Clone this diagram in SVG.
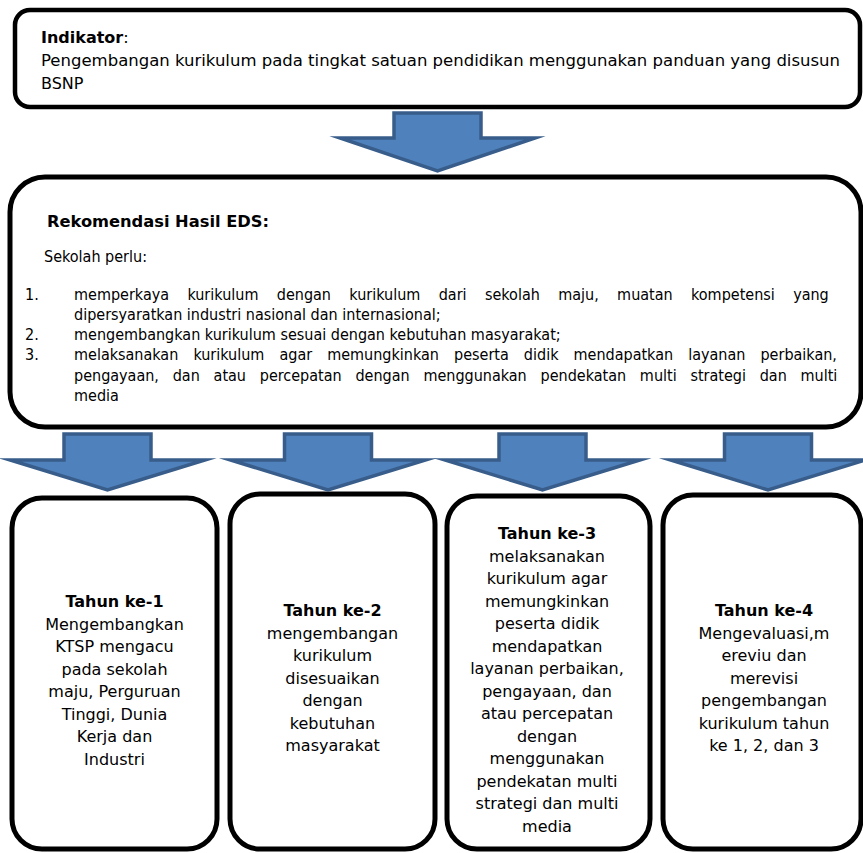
<svg xmlns="http://www.w3.org/2000/svg" width="863" height="853" viewBox="0 0 863 853">
<style>
.box{fill:#fff;stroke:#000;stroke-width:5}
.arrow{fill:#4F81BD;stroke:#385D8A;stroke-width:3.5;stroke-linejoin:miter;stroke-miterlimit:10}
text{font-family:"DejaVu Sans","Verdana",sans-serif;font-size:16px;fill:#000}
.b{font-weight:bold}
.c{text-anchor:middle}
.n{font-family:"DejaVu Sans Condensed","DejaVu Sans",sans-serif;font-stretch:condensed}
</style>
<rect width="863" height="853" fill="#fff"/>
<g id="indikator">
<rect class="box" x="15" y="10" width="845" height="97" rx="15" ry="15" style="stroke-width:4.5"/>
<text x="41" y="43"><tspan class="b">Indikator</tspan>:</text>
<text x="41" y="66" textLength="799" lengthAdjust="spacingAndGlyphs">Pengembangan kurikulum pada tingkat satuan pendidikan menggunakan panduan yang disusun</text>
<text x="41" y="89">BSNP</text>
</g>
<g id="rekomendasi">
<rect class="box" x="10" y="177" width="851" height="250" rx="35" ry="35"/>
<text class="n b" x="47" y="227" textLength="222" lengthAdjust="spacingAndGlyphs">Rekomendasi Hasil EDS:</text>
<text class="n" x="44" y="262">Sekolah perlu:</text>
<text class="n" x="25" y="300">1.</text>
<text class="n" x="74" y="300" word-spacing="13.8">memperkaya kurikulum dengan kurikulum dari sekolah maju, muatan kompetensi yang</text>
<text class="n" x="74" y="320">dipersyaratkan industri nasional dan internasional;</text>
<text class="n" x="25" y="340">2.</text>
<text class="n" x="74" y="340">mengembangkan kurikulum sesuai dengan kebutuhan masyarakat;</text>
<text class="n" x="25" y="360">3.</text>
<text class="n" x="74" y="360" word-spacing="10.5">melaksanakan kurikulum agar memungkinkan peserta didik mendapatkan layanan perbaikan,</text>
<text class="n" x="74" y="381" word-spacing="9.2">pengayaan, dan atau percepatan dengan menggunakan pendekatan multi strategi dan multi</text>
<text class="n" x="74" y="401">media</text>
</g>
<g id="tahun1">
<rect class="box" x="12" y="498" width="205" height="351" rx="30" ry="30"/>
<text class="c" x="114.5" y="607.3"><tspan class="b">Tahun ke-1</tspan><tspan x="114.5" dy="22.5">Mengembangkan</tspan><tspan x="114.5" dy="22.5">KTSP mengacu</tspan><tspan x="114.5" dy="22.5">pada sekolah</tspan><tspan x="114.5" dy="22.5">maju, Perguruan</tspan><tspan x="114.5" dy="22.5">Tinggi, Dunia</tspan><tspan x="114.5" dy="22.5">Kerja dan</tspan><tspan x="114.5" dy="22.5">Industri</tspan></text>
</g>
<g id="tahun2">
<rect class="box" x="230" y="494" width="205" height="355" rx="30" ry="30"/>
<text class="c" x="332.5" y="616"><tspan class="b">Tahun ke-2</tspan><tspan x="332.5" dy="22.5">mengembangan</tspan><tspan x="332.5" dy="22.5">kurikulum</tspan><tspan x="332.5" dy="22.5">disesuaikan</tspan><tspan x="332.5" dy="22.5">dengan</tspan><tspan x="332.5" dy="22.5">kebutuhan</tspan><tspan x="332.5" dy="22.5">masyarakat</tspan></text>
</g>
<g id="tahun3">
<rect class="box" x="447" y="496" width="203" height="353" rx="30" ry="30"/>
<text class="c" x="547" y="539"><tspan class="b">Tahun ke-3</tspan><tspan x="547" dy="22.5">melaksanakan</tspan><tspan x="547" dy="22.5">kurikulum agar</tspan><tspan x="547" dy="22.5">memungkinkan</tspan><tspan x="547" dy="22.5">peserta didik</tspan><tspan x="547" dy="22.5">mendapatkan</tspan><tspan x="547" dy="22.5">layanan perbaikan,</tspan><tspan x="547" dy="22.5">pengayaan, dan</tspan><tspan x="547" dy="22.5">atau percepatan</tspan><tspan x="547" dy="22.5">dengan</tspan><tspan x="547" dy="22.5">menggunakan</tspan><tspan x="547" dy="22.5">pendekatan multi</tspan><tspan x="547" dy="22.5">strategi dan multi</tspan><tspan x="547" dy="22.5">media</tspan></text>
</g>
<g id="tahun4">
<rect class="box" x="663" y="495" width="198" height="354" rx="30" ry="30"/>
<text class="c" x="764" y="616"><tspan class="b">Tahun ke-4</tspan><tspan x="764" dy="22.5">Mengevaluasi,m</tspan><tspan x="764" dy="22.5">ereviu dan</tspan><tspan x="764" dy="22.5">merevisi</tspan><tspan x="764" dy="22.5">pengembangan</tspan><tspan x="764" dy="22.5">kurikulum tahun</tspan><tspan x="764" dy="22.5">ke 1, 2, dan 3</tspan></text>
</g>
<g id="connectors">
<polygon class="arrow" points="394,113 481,113 481,138 535,138 437.5,171 340,138 394,138"/>
<polygon class="arrow" points="64,434 151,434 151,460 205,460 107.5,490 10,460 64,460"/>
<polygon class="arrow" points="284.5,434 371.5,434 371.5,460 425.5,460 328,490 230.5,460 284.5,460"/>
<polygon class="arrow" points="499,434 586,434 586,460 640,460 542.5,490 445,460 499,460"/>
<polygon class="arrow" points="724.5,434 811.5,434 811.5,460 865.5,460 768,490 670.5,460 724.5,460"/>
</g>
</svg>
